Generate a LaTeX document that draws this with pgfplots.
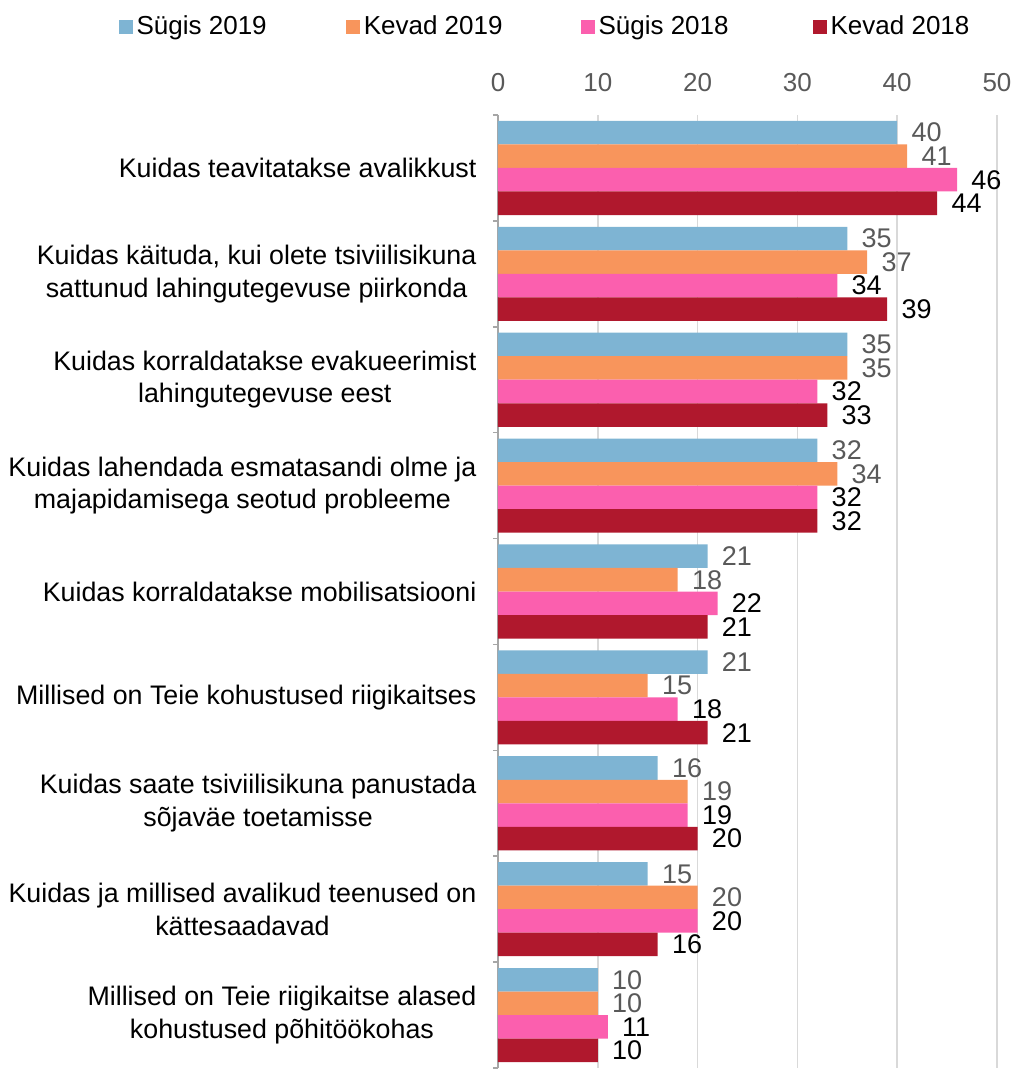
\documentclass[border=0pt]{standalone}
\usepackage{pgfplots}
\pgfplotsset{compat=1.18}
\usepackage{fontspec}
\setmainfont{Liberation Sans}
\definecolor{cA}{HTML}{7EB4D3}
\definecolor{cB}{HTML}{F8955C}
\definecolor{cC}{HTML}{FB5FAE}
\definecolor{cD}{HTML}{B0182D}
\definecolor{lab}{HTML}{595959}
\definecolor{gridc}{HTML}{D9D9D9}
\definecolor{axc}{HTML}{A6A6A6}
\begin{document}
\fontsize{13}{16}\selectfont
\begin{tikzpicture}
\useasboundingbox (-249pt,-2pt) rectangle (258pt,534pt);
\begin{axis}[
  at={(0pt,0pt)}, anchor=south west,
  scale only axis, width=249.5pt, height=476.5pt,
  xmin=0, xmax=50, xtick={0,10,...,50},
  ymin=-0.5, ymax=8.5, y dir=reverse,
  ytick={0,...,8},
  minor ytick={-0.5,0.5,...,8.5},
  axis x line*=top, axis y line*=left,
  x axis line style={draw=none},
  y axis line style={-, draw=axc, line width=0.75pt},
  xmajorgrids, grid style={draw=gridc, line width=0.75pt},
  major tick length=0pt, minor tick length=2.5pt, tick align=outside,
  tick style={draw=axc, line width=0.75pt},
  xticklabel style={text=lab, yshift=7pt},
  /pgf/number format/assume math mode=true,
  yticklabel style={align=center, text=black, xshift=-6.3pt, font=\fontsize{13.4}{16.3}\selectfont},
  yticklabels={
    {Kuidas teavitatakse avalikkust},
    {Kuidas käituda, kui olete tsiviilisikuna\\sattunud lahingutegevuse piirkonda},
    {Kuidas korraldatakse evakueerimist\\lahingutegevuse eest},
    {Kuidas lahendada esmatasandi olme ja\\majapidamisega seotud probleeme},
    {Kuidas korraldatakse mobilisatsiooni},
    {Millised on Teie kohustused riigikaitses},
    {Kuidas saate tsiviilisikuna panustada\\sõjaväe toetamisse},
    {Kuidas ja millised avalikud teenused on\\kättesaadavad},
    {Millised on Teie riigikaitse alased\\kohustused põhitöökohas}},
  bar width=0.2222,
  point meta=x,
  nodes near coords,
  nodes near coords style={anchor=west, inner sep=0pt, xshift=7pt, font=\fontsize{13.5}{16}\selectfont},
  legend image code/.code={\draw[#1, draw=none] (0pt,-3.5pt) rectangle (7pt,3.5pt);},
  legend columns=4,
  legend style={draw=none, fill=none, at={(-0.761,1.092)}, anchor=west,
    inner sep=0pt, nodes={inner sep=1pt, text=black},
    /tikz/every odd column/.append style={column sep=1pt},
    /tikz/column 2/.append style={column sep=38.5pt},
    /tikz/column 4/.append style={column sep=38pt},
    /tikz/column 6/.append style={column sep=41pt}},
]
\addplot[xbar, fill=cA, draw=none, bar shift=0pt, every node near coord/.append style={text=lab}]
  coordinates {(40,-0.3333) (35,0.6667) (35,1.6667) (32,2.6667) (21,3.6667) (21,4.6667) (16,5.6667) (15,6.6667) (10,7.6667)};
\addlegendentry{Sügis 2019}
\addplot[xbar, fill=cB, draw=none, bar shift=0pt, every node near coord/.append style={text=lab}]
  coordinates {(41,-0.1111) (37,0.8889) (35,1.8889) (34,2.8889) (18,3.8889) (15,4.8889) (19,5.8889) (20,6.8889) (10,7.8889)};
\addlegendentry{Kevad 2019}
\addplot[xbar, fill=cC, draw=none, bar shift=0pt, every node near coord/.append style={text=black}]
  coordinates {(46,0.1111) (34,1.1111) (32,2.1111) (32,3.1111) (22,4.1111) (18,5.1111) (19,6.1111) (20,7.1111) (11,8.1111)};
\addlegendentry{Sügis 2018}
\addplot[xbar, fill=cD, draw=none, bar shift=0pt, every node near coord/.append style={text=black}]
  coordinates {(44,0.3333) (39,1.3333) (33,2.3333) (32,3.3333) (21,4.3333) (21,5.3333) (20,6.3333) (16,7.3333) (10,8.3333)};
\addlegendentry{Kevad 2018}
\end{axis}
\end{tikzpicture}
\end{document}
